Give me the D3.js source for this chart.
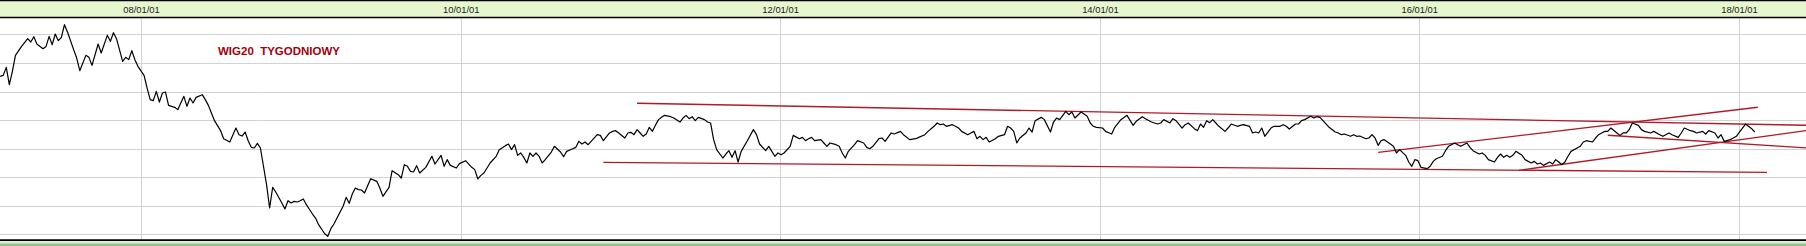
<!DOCTYPE html>
<html>
<head>
<meta charset="utf-8">
<script src="https://cdn.jsdelivr.net/npm/d3@7"></script>
<style>
  body { margin: 0; background: #fff; }
  svg { display: block; font-family: "Liberation Sans", Arial, sans-serif; }
</style>
</head>
<body>
<script>
// weekly closes, [week number counted from startDay, close]
const startDay = new Date(2007, 1, 13);
const yearTicks = [2008, 2010, 2012, 2014, 2016, 2018];
const gridLevels = [1200, 1500, 1800, 2100, 2400, 2700, 3000, 3300];
const title = "WIG20  TYGODNIOWY";

const wig2007 = [[0,2860],[1,2870],[2,2954],[3,2772],[4,2912],[5,3080],[7,3174],[9,3255],[10,3220],[11,3276],[12,3199],[14,3150],[15,3174],[16,3279],[17,3192],[18,3304],[19,3234],[20,3269],[21,3402],[22,3325],[24,3140],[25,3052],[26,2919],[28,3080],[29,3059],[30,2975],[32,3199],[33,3105],[35,3290],[36,3227],[37,3318],[38,3255],[40,3017],[41,3059],[42,3035],[43,3129],[44,3035],[45,2965],[47,2870],[48,2737],[49,2615],[50,2604],[51,2702],[52,2590],[53,2685],[54,2695],[55,2555],[57,2534],[58,2510],[60,2650],[61,2545],[62,2632],[63,2580],[64,2639],[66,2667],[67,2615],[68,2555],[69,2475],[70,2394],[72,2289],[73,2205],[75,2170],[77,2317],[78,2247],[79,2233],[80,2275],[81,2184],[82,2114],[83,2107],[84,2156],[85,2107],[87,1722],[88,1477],[89,1694],[90,1645],[92,1530],[93,1467],[94,1554],[95,1530],[96,1547],[97,1540],[98,1554],[99,1572],[100,1512],[102,1414],[103,1372],[104,1302],[106,1207],[107,1180],[108,1260],[109,1309],[110,1372],[112,1495],[113,1589],[114,1526],[115,1624],[116,1687],[117,1670],[118,1666],[119,1635],[121,1785],[123,1757],[124,1687],[125,1600],[127,1694],[128,1869],[130,1827],[131,1792],[132,1932],[133,1915],[134,1862],[135,1855],[136,1922],[137,1845],[139,1904],[141,2020],[142,1939],[144,2030],[145,1915],[146,1985],[147,1925],[149,1897],[150,1943],[152,1974],[154,1904],[155,1880],[156,1782],[157,1820],[158,1845],[160,1950],[162,2020],[163,2090],[165,2132],[166,2149],[167,2090],[168,2142],[169,2030],[170,2055],[171,2009],[172,1950],[173,2055],[174,2020],[175,2055],[176,2020],[177,1950],[178,1985],[180,2065],[181,2125],[183,2065],[184,2016],[185,2072],[187,2100],[188,2114],[189,2177],[190,2149],[191,2170],[192,2142],[193,2177],[195,2247],[196,2240]];

const wig2010 = [[197,2184],[199,2265],[200,2282],[201,2289],[202,2265],[204,2212],[205,2265],[206,2272],[207,2247],[208,2300],[209,2265],[210,2230],[211,2254],[212,2324],[213,2282],[214,2345],[215,2405],[216,2429],[217,2450],[219,2436],[220,2422],[222,2380],[223,2422],[224,2450],[225,2415],[226,2436],[227,2394],[228,2429],[230,2405],[231,2380],[232,2370],[233,2195],[234,2090],[236,2002],[237,2044],[238,2079],[239,2009],[240,2079],[241,1960],[242,2072],[244,2184],[246,2300],[247,2247],[248,2149],[250,2079],[251,2125],[252,2072],[253,2020],[254,2055],[255,2037],[256,2055],[258,2125],[259,2240],[261,2205],[262,2219],[263,2184],[264,2205],[265,2219],[266,2184],[268,2195],[269,2160],[270,2125],[271,2160],[273,2142],[274,2125],[275,2055],[276,2002],[277,2072],[279,2142],[280,2184],[282,2160],[283,2114],[284,2100],[285,2125],[287,2205],[288,2212],[289,2177],[291,2265],[292,2254],[294,2282],[295,2247],[297,2195],[299,2205],[300,2219],[302,2247],[303,2282],[305,2335],[306,2370],[307,2352],[308,2359],[309,2335],[311,2352],[313,2317],[314,2282],[316,2247],[317,2265],[318,2282],[319,2205],[320,2230],[321,2195],[322,2219],[323,2170],[325,2205],[326,2230],[328,2247],[329,2335],[330,2317],[331,2282],[332,2160],[333,2212],[335,2265],[336,2317],[337,2275],[338,2394],[340,2429],[341,2405],[343,2275],[344,2380],[345,2422],[346,2405],[348,2492],[349,2457],[350,2485],[351,2422],[353,2485],[355,2440],[356,2370],[357,2335],[358,2324],[360,2317],[361,2282],[363,2254],[364,2324],[366,2405],[368,2450],[370,2345],[371,2387],[373,2436],[374,2415],[376,2380],[378,2359],[379,2370],[380,2405],[382,2370],[383,2415],[384,2394],[386,2317],[387,2352],[388,2370],[390,2310],[391,2289],[392,2359]];

const wig2014 = [[393,2324],[394,2394],[395,2373],[396,2405],[397,2370],[398,2335],[400,2282],[401,2317],[402,2359],[404,2335],[405,2345],[406,2352],[408,2335],[409,2265],[410,2275],[411,2265],[412,2317],[413,2230],[415,2317],[416,2335],[418,2335],[419,2352],[420,2335],[421,2306],[423,2359],[424,2359],[425,2394],[426,2405],[428,2440],[429,2422],[430,2436],[431,2429],[432,2394],[434,2324],[436,2275],[437,2265],[438,2247],[439,2254],[441,2230],[442,2247],[443,2230],[444,2233],[446,2205],[447,2212],[448,2247],[449,2212],[450,2135],[451,2184],[452,2195],[454,2149],[455,2125],[456,2055],[457,2090],[459,2030],[460,1960],[461,1915],[462,1985],[463,1974],[464,1904],[466,1890],[467,1915],[468,1967],[469,1995],[471,2020],[472,2079],[473,2125],[475,2160],[476,2142],[477,2125],[479,2160],[480,2114],[481,2079],[483,2044],[484,2055],[485,2030],[486,1985],[488,1960],[489,2009],[490,2044],[491,2009],[492,2030],[493,2009],[494,2030],[495,2072],[497,2030],[498,1985],[500,1950],[501,1967],[502,1939],[503,1950],[504,1925],[506,1960],[507,1939],[508,1985],[509,1960],[510,1932],[511,1960],[512,2020],[513,2072],[515,2107],[516,2125],[517,2170],[518,2184],[520,2170],[521,2212],[522,2247],[523,2265],[524,2282],[525,2282],[526,2317],[528,2265],[529,2240],[530,2265],[531,2265],[532,2300],[533,2370],[535,2345],[536,2300],[537,2282],[539,2265],[540,2282],[542,2247],[543,2230],[545,2265],[546,2247],[548,2219],[549,2265],[550,2317],[552,2289],[553,2282],[554,2265],[556,2282],[557,2254],[558,2289],[560,2265],[561,2212],[562,2247],[563,2177],[565,2195],[566,2212],[567,2230],[568,2275],[569,2317],[570,2359],[572,2310],[573,2275]];

// trend lines drawn on the chart, same units as the series
const trendLines = [
  [[208, 2577], [590, 2346]],
  [[197, 1957], [577, 1852]],
  [[450, 2062], [574, 2535]],
  [[496, 1873], [590, 2291]],
  [[525, 2241], [590, 2107]]
];

const W = 1806, H = 246;
const plotTop = 18, plotBottom = 240;

const weekToDate = w => d3.timeDay.offset(startDay, w * 7);
const series = wig2007.concat(wig2010, wig2014);

const x = d3.scaleTime()
    .domain([new Date(2008, 0, 1), new Date(2018, 0, 1)])
    .range([141, 1739]);
const y = d3.scaleLinear()
    .domain([1200, 3300])
    .range([234.4, 34.4]);

const svg = d3.select("body").append("svg")
    .attr("width", W)
    .attr("height", H);

// header band
svg.append("rect").attr("x", 0).attr("y", 0).attr("width", W).attr("height", plotTop)
    .attr("fill", "#e6f7d0");
svg.append("line").attr("x1", 0).attr("x2", W).attr("y1", 0.5).attr("y2", 0.5)
    .attr("stroke", "#000").attr("stroke-width", 1.5);

// footer band
svg.append("rect").attr("x", 0).attr("y", plotBottom).attr("width", W).attr("height", H - plotBottom)
    .attr("fill", "#dcefd6");
svg.append("rect").attr("x", 0).attr("y", 243.5).attr("width", W).attr("height", H - 243.5)
    .attr("fill", "#93c28e");

// grid
svg.append("g").selectAll("line").data(gridLevels).enter().append("line")
    .attr("x1", 0).attr("x2", W)
    .attr("y1", d => Math.round(y(d)) + 0.5).attr("y2", d => Math.round(y(d)) + 0.5)
    .attr("stroke", "#d2d2d2").attr("stroke-width", 1);

const tickDates = yearTicks.map(yr => new Date(yr, 0, 1));
svg.append("g").selectAll("line").data(tickDates).enter().append("line")
    .attr("x1", d => Math.round(x(d)) + 0.5).attr("x2", d => Math.round(x(d)) + 0.5)
    .attr("y1", plotTop).attr("y2", plotBottom)
    .attr("stroke", "#d2d2d2").attr("stroke-width", 1);

// date labels in the header
const axis = d3.axisBottom(x)
    .tickValues(tickDates)
    .tickFormat(d3.timeFormat("%y/%m/%d"))
    .tickSize(0)
    .tickPadding(0);
const ax = svg.append("g").attr("transform", "translate(0,6.6)").call(axis);
ax.select(".domain").remove();
ax.selectAll("text")
    .attr("font-size", 9.4)
    .attr("font-family", "'Liberation Sans', Arial, sans-serif")
    .attr("fill", "#1a1a1a");

// border lines of the plot area
svg.append("line").attr("x1", 0).attr("x2", W).attr("y1", plotTop - 0.5).attr("y2", plotTop - 0.5)
    .attr("stroke", "#000").attr("stroke-width", 1.5);
svg.append("line").attr("x1", 0).attr("x2", W).attr("y1", plotBottom + 0.2).attr("y2", plotBottom + 0.2)
    .attr("stroke", "#000").attr("stroke-width", 1.8);

// trend lines
svg.append("g").selectAll("line").data(trendLines).enter().append("line")
    .attr("x1", d => x(weekToDate(d[0][0])))
    .attr("y1", d => y(d[0][1]))
    .attr("x2", d => x(weekToDate(d[1][0])))
    .attr("y2", d => y(d[1][1]))
    .attr("stroke", "#b01a28")
    .attr("stroke-width", 1.3);

// price line
const line = d3.line()
    .x(d => x(weekToDate(d[0])))
    .y(d => y(d[1]));
svg.append("path")
    .datum(series)
    .attr("d", line)
    .attr("fill", "none")
    .attr("stroke", "#000")
    .attr("stroke-width", 1.2)
    .attr("stroke-linejoin", "round");

// title
svg.append("text")
    .attr("x", 218)
    .attr("y", 55.3)
    .attr("font-size", 11.5)
    .attr("font-weight", "bold")
    .attr("fill", "#a3000c")
    .style("white-space", "pre")
    .text(title);
</script>
</body>
</html>
